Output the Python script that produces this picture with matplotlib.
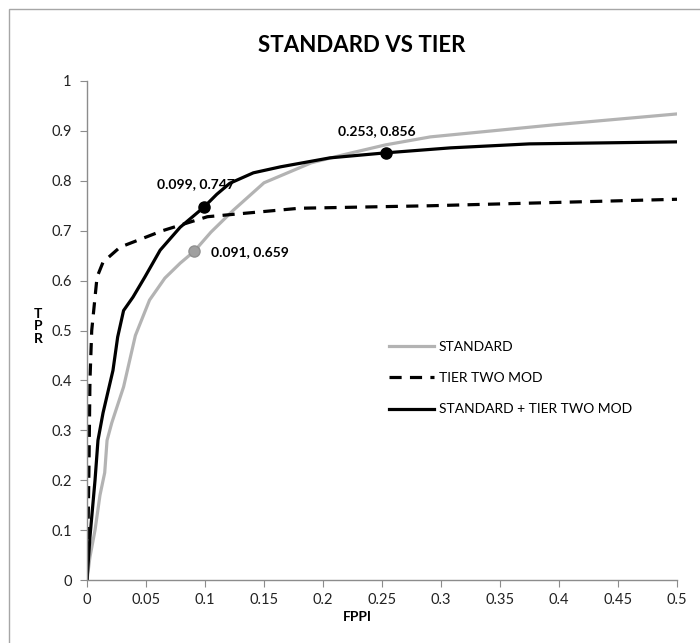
import matplotlib
matplotlib.use("Agg")
import matplotlib.pyplot as plt
from matplotlib.patches import Rectangle
from matplotlib.ticker import FuncFormatter

plt.rcParams['font.family'] = ['Lato', 'DejaVu Sans']

# STANDARD (gray)
std_x = [0, 0.0025, 0.0068, 0.011, 0.015, 0.017, 0.021, 0.031, 0.041, 0.053,
         0.066, 0.079, 0.091, 0.105, 0.124, 0.15, 0.19, 0.217, 0.253, 0.291,
         0.395, 0.5]
std_y = [0, 0.046, 0.10, 0.17, 0.215, 0.28, 0.315, 0.387, 0.49, 0.561,
         0.605, 0.635, 0.659, 0.697, 0.741, 0.796, 0.836, 0.852, 0.872, 0.888,
         0.912, 0.934]

# TIER TWO MOD (dashed)
tier_x = [0, 0.0008, 0.0017, 0.0025, 0.004, 0.0085, 0.0136, 0.028, 0.064,
          0.087, 0.102, 0.18, 0.291, 0.5]
tier_y = [0, 0.086, 0.234, 0.40, 0.50, 0.607, 0.637, 0.667, 0.70,
          0.717, 0.728, 0.745, 0.75, 0.763]

# STANDARD + TIER TWO MOD (black)
comb_x = [0, 0.0025, 0.0068, 0.0093, 0.0136, 0.022, 0.026, 0.031, 0.039, 0.049,
          0.062, 0.079, 0.099, 0.11, 0.121, 0.141, 0.164, 0.206, 0.253, 0.308,
          0.375, 0.5]
comb_y = [0, 0.086, 0.20, 0.28, 0.335, 0.42, 0.487, 0.54, 0.567, 0.607,
          0.661, 0.707, 0.747, 0.773, 0.795, 0.816, 0.828, 0.846, 0.856, 0.866,
          0.874, 0.878]

# labelled points
std_pt = (0.091, 0.659)
comb_pts = [(0.099, 0.747), (0.253, 0.856)]

fig = plt.figure(figsize=(7, 6.43), dpi=100)
ax = fig.add_axes([87/700, 1 - 580/643, 590/700, 499/643])

# chart frame like the spreadsheet one
fig.patches.append(Rectangle((9/700, -0.1), 1.2, 1.1 - 9/643, transform=fig.transFigure,
                             fill=False, edgecolor='#a6a6a6', linewidth=1.0))

ax.plot(std_x, std_y, color='#b3b3b3', lw=2.3, label='STANDARD')
ax.plot(tier_x, tier_y, color='black', lw=2.3, dashes=(3.8, 2.6), label='TIER TWO MOD')
ax.plot(comb_x, comb_y, color='black', lw=2.3, label='STANDARD + TIER TWO MOD')

ax.plot(*std_pt, 'o', ms=8, color='#a0a0a0', mec='#909090', zorder=5)
for px, py in comb_pts:
    ax.plot(px, py, 'o', ms=8, color='black', zorder=5)

ax.annotate('0.091, 0.659', std_pt, xytext=(12, -1), textcoords='offset points',
            ha='left', va='center', fontsize=10, fontweight='bold')
ax.annotate('0.099, 0.747', comb_pts[0], xytext=(-6, 17), textcoords='offset points',
            ha='center', va='center', fontsize=10, fontweight='bold')
ax.annotate('0.253, 0.856', comb_pts[1], xytext=(-6, 16), textcoords='offset points',
            ha='center', va='center', fontsize=10, fontweight='bold')

ax.set_xlim(0, 0.5)
ax.set_ylim(0, 1)
ax.set_xticks([i * 0.05 for i in range(11)])
ax.set_yticks([i * 0.1 for i in range(11)])
fmt = FuncFormatter(lambda v, p: ('%.2f' % v).rstrip('0').rstrip('.'))
ax.xaxis.set_major_formatter(fmt)
ax.yaxis.set_major_formatter(fmt)

for s in ['top', 'right']:
    ax.spines[s].set_visible(False)
for s in ['left', 'bottom']:
    ax.spines[s].set_color('#8c8c8c')
    ax.spines[s].set_linewidth(1.0)
ax.tick_params(colors='#8c8c8c', labelcolor='#222222', length=5, direction='out',
               labelsize=10.5)
ax.tick_params(axis='x', pad=4)
ax.tick_params(axis='y', pad=6)

ax.set_xlabel('FPPI', fontsize=10, fontweight='bold', va='center')
ax.xaxis.set_label_coords((357 - 87) / 590, (580 - 617) / 499)
ax.set_ylabel('T\nP\nR', fontsize=10, fontweight='bold', rotation=0,
              va='center', ha='center', linespacing=1.05)
ax.yaxis.set_label_coords((38 - 87) / 590, (580 - 326) / 499)
fig.text(362/700, 1 - 45/643, 'STANDARD VS TIER', ha='center', va='center',
         fontsize=16, fontweight='bold')

ax.legend(loc='upper left', bbox_to_anchor=(0.49, 0.505), frameon=False,
          fontsize=10, handlelength=3.3, handletextpad=0.3, labelspacing=1.4)

fig.savefig('out.png', dpi=100)
